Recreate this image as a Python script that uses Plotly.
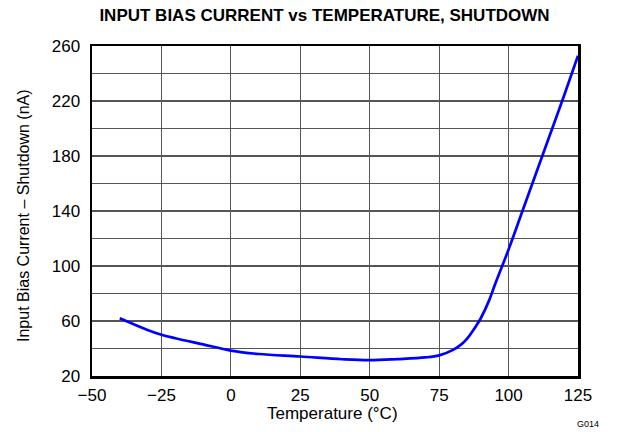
import plotly.graph_objects as go

temps = [-40, -30, -25, -20, -10, 0, 10, 25, 40, 50, 60, 70, 75, 80, 83, 85, 88, 90, 93, 95, 100, 105, 110, 115, 120, 125]
current_na = [62, 53.5, 50, 47.5, 43, 38.5, 36, 34.2, 32.2, 31.5, 32.3, 33.5, 35, 39, 43, 47, 55.5, 62, 75, 86, 112, 140, 168, 196, 224, 253]

x_ticks = [-50, -25, 0, 25, 50, 75, 100, 125]
x_labels = ["\u221250", "\u221225", "0", "25", "50", "75", "100", "125"]
y_ticks = [20, 60, 100, 140, 180, 220, 260]

L, R, T, B = 92, 40, 46, 56
PW, PH = 618 - L - R, 432 - T - B

fig = go.Figure()
fig.add_trace(go.Scatter(x=temps, y=current_na, mode="lines",
                         line=dict(color="#0000ff", width=2.7), line_shape="spline",
                         showlegend=False, hoverinfo="skip"))

fig.update_layout(
    width=618, height=432,
    margin=dict(l=L, r=R, t=T, b=B),
    paper_bgcolor="white", plot_bgcolor="white",
    font=dict(family="Liberation Sans, Arial, sans-serif", color="black", size=17),
    title=dict(text="<b>INPUT BIAS CURRENT vs TEMPERATURE, SHUTDOWN</b>",
               x=324.5 / 618, xanchor="center", y=1 - 15 / 432, yanchor="middle",
               font=dict(size=17, color="black")),
)
fig.update_xaxes(range=[-50, 125], tickvals=x_ticks, ticktext=x_labels,
                 showgrid=True, gridcolor="#555555", gridwidth=1.2,
                 showline=True, linecolor="black", linewidth=2.5, mirror=True,
                 ticks="", zeroline=False, automargin=False, ticklabelstandoff=2,
                 tickfont=dict(size=17))
fig.update_yaxes(range=[20, 260], tickvals=y_ticks,
                 showgrid=True, gridcolor="#555555", gridwidth=1.2,
                 minor=dict(dtick=20, tick0=20, showgrid=True, gridcolor="#555555", gridwidth=1.2),
                 showline=True, linecolor="black", linewidth=2.5, mirror=True,
                 ticks="", zeroline=False, automargin=False, ticklabelstandoff=6,
                 tickfont=dict(size=17))
fig.add_annotation(text="Temperature (\u00b0C)", xref="paper", yref="paper",
                   x=(332 - L) / PW, y=(376 - 413) / PH, xanchor="center", yanchor="middle",
                   showarrow=False, font=dict(size=17, color="black"))
fig.add_annotation(text="Input Bias Current \u2013 Shutdown (nA)", xref="paper", yref="paper",
                   x=(23 - L) / PW, y=(376 - 216) / PH, xanchor="center", yanchor="middle",
                   textangle=-90, showarrow=False, font=dict(size=16, color="black"))
fig.add_annotation(text="G014", xref="paper", yref="paper", x=(601 - L) / PW, y=(376 - 424) / PH,
                   xanchor="right", yanchor="middle", showarrow=False,
                   font=dict(size=9, color="black"))
fig.write_html("out.html", config={"displayModeBar": False, "staticPlot": True},
               post_script="document.body.style.margin='0';document.body.style.padding='0';document.body.style.overflow='hidden';")
